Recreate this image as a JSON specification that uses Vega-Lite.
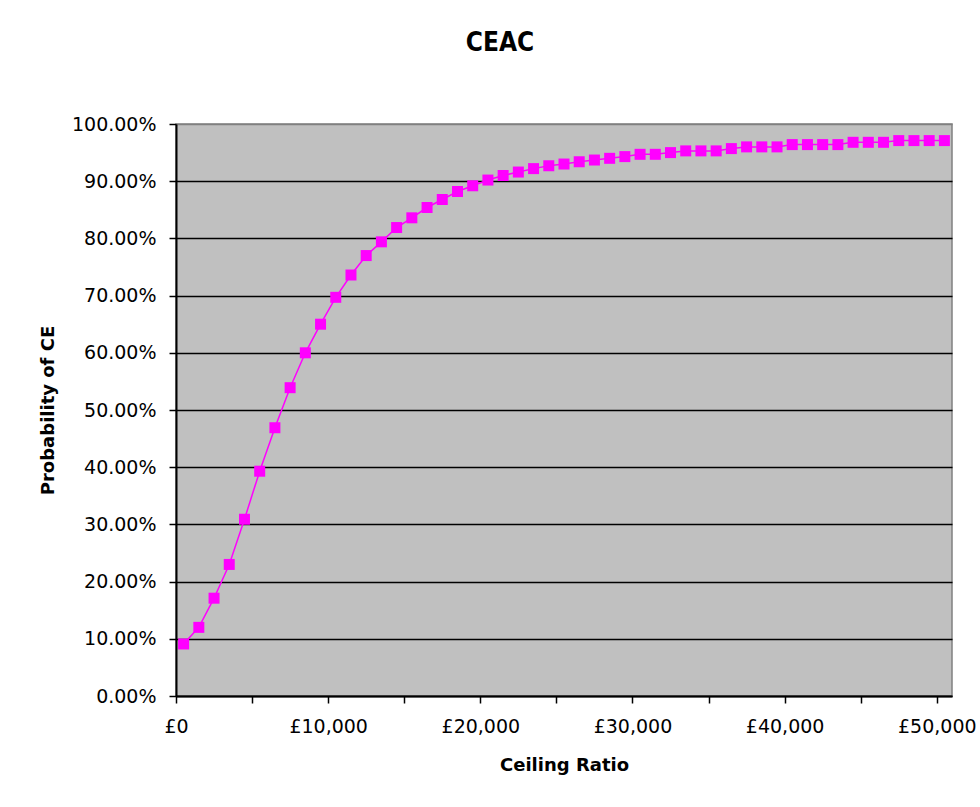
{
  "$schema": "https://vega.github.io/schema/vega-lite/v6.json",
  "autosize": "none",
  "width": 776,
  "height": 572,
  "padding": {"left": 176, "top": 124, "right": 28, "bottom": 111},
  "background": "white",
  "title": {
    "text": "CEAC",
    "font": "Liberation Sans Narrow, DejaVu Sans Condensed, DejaVu Sans",
    "fontSize": 26,
    "fontWeight": "bold",
    "color": "black",
    "anchor": "middle",
    "frame": "group",
    "baseline": "alphabetic",
    "offset": 38,
    "dx": -64
  },
  "config": {
    "view": {"fill": "#C0C0C0", "stroke": "#808080", "strokeWidth": 1.5},
    "axis": {
      "labelFont": "DejaVu Sans",
      "labelFontSize": 19,
      "labelColor": "black",
      "titleFont": "DejaVu Sans",
      "titleFontSize": 18,
      "titleFontWeight": "bold",
      "titleColor": "black",
      "domainColor": "black",
      "domainWidth": 2,
      "tickColor": "black",
      "tickWidth": 1.5,
      "tickSize": 7
    }
  },
  "data": {
    "values": [
      {"ratio": 0, "p": 0.091},
      {"ratio": 1000, "p": 0.120},
      {"ratio": 2000, "p": 0.171},
      {"ratio": 3000, "p": 0.230},
      {"ratio": 4000, "p": 0.309},
      {"ratio": 5000, "p": 0.393},
      {"ratio": 6000, "p": 0.469},
      {"ratio": 7000, "p": 0.539},
      {"ratio": 8000, "p": 0.600},
      {"ratio": 9000, "p": 0.650},
      {"ratio": 10000, "p": 0.697},
      {"ratio": 11000, "p": 0.736},
      {"ratio": 12000, "p": 0.770},
      {"ratio": 13000, "p": 0.794},
      {"ratio": 14000, "p": 0.819},
      {"ratio": 15000, "p": 0.836},
      {"ratio": 16000, "p": 0.854},
      {"ratio": 17000, "p": 0.868},
      {"ratio": 18000, "p": 0.882},
      {"ratio": 19000, "p": 0.892},
      {"ratio": 20000, "p": 0.902},
      {"ratio": 21000, "p": 0.910},
      {"ratio": 22000, "p": 0.916},
      {"ratio": 23000, "p": 0.922},
      {"ratio": 24000, "p": 0.927},
      {"ratio": 25000, "p": 0.930},
      {"ratio": 26000, "p": 0.934},
      {"ratio": 27000, "p": 0.937},
      {"ratio": 28000, "p": 0.940},
      {"ratio": 29000, "p": 0.943},
      {"ratio": 30000, "p": 0.947},
      {"ratio": 31000, "p": 0.947},
      {"ratio": 32000, "p": 0.950},
      {"ratio": 33000, "p": 0.953},
      {"ratio": 34000, "p": 0.953},
      {"ratio": 35000, "p": 0.953},
      {"ratio": 36000, "p": 0.957},
      {"ratio": 37000, "p": 0.960},
      {"ratio": 38000, "p": 0.960},
      {"ratio": 39000, "p": 0.960},
      {"ratio": 40000, "p": 0.964},
      {"ratio": 41000, "p": 0.964},
      {"ratio": 42000, "p": 0.964},
      {"ratio": 43000, "p": 0.964},
      {"ratio": 44000, "p": 0.968},
      {"ratio": 45000, "p": 0.968},
      {"ratio": 46000, "p": 0.968},
      {"ratio": 47000, "p": 0.971},
      {"ratio": 48000, "p": 0.971},
      {"ratio": 49000, "p": 0.971},
      {"ratio": 50000, "p": 0.971}
    ]
  },
  "encoding": {
    "x": {
      "field": "ratio",
      "type": "quantitative",
      "scale": {"domain": [-500, 50500], "nice": false, "zero": false},
      "axis": {
        "title": "Ceiling Ratio",
        "values": [0, 5000, 10000, 15000, 20000, 25000, 30000, 35000, 40000, 45000, 50000],
        "labelExpr": "datum.value % 10000 === 0 ? '£' + format(datum.value, ',') : ''",
        "tickOffset": -7.6,
        "grid": false,
        "labelOverlap": false,
        "labelFlush": false,
        "labelPadding": 14,
        "titlePadding": 20
      }
    },
    "y": {
      "field": "p",
      "type": "quantitative",
      "scale": {"domain": [0, 1], "nice": false},
      "axis": {
        "title": "Probability of CE",
        "values": [0, 0.1, 0.2, 0.3, 0.4, 0.5, 0.6, 0.7, 0.8, 0.9, 1],
        "format": ".2%",
        "grid": true,
        "gridColor": {"condition": {"test": "datum.value >= 1", "value": "#808080"}, "value": "black"},
        "gridWidth": 1.5,
        "gridOpacity": 1,
        "labelPadding": 13,
        "titlePadding": 14
      }
    }
  },
  "layer": [
    {"mark": {"type": "line", "color": "#FF00FF", "strokeWidth": 1.5}},
    {"mark": {"type": "point", "shape": "square", "filled": true, "color": "#FF00FF", "opacity": 1, "size": 121}}
  ]
}
